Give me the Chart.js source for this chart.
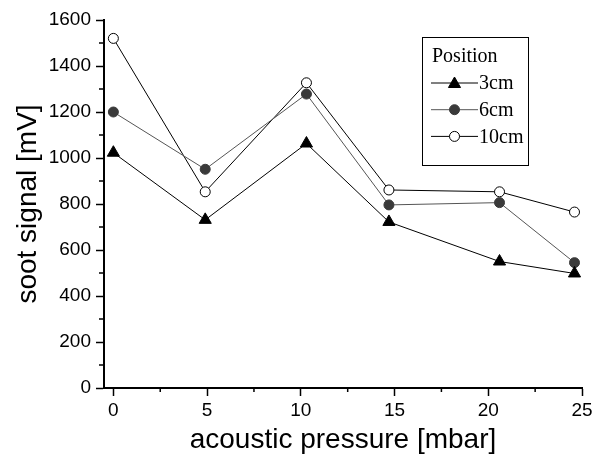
<!DOCTYPE html>
<html>
<head>
<meta charset="utf-8">
<script src="https://cdn.jsdelivr.net/npm/chart.js@4/dist/chart.umd.min.js"></script>
<style>
  html, body { margin: 0; padding: 0; background: #fff; }
  #wrap { width: 604px; height: 457px; }
</style>
</head>
<body>
<div id="wrap"><canvas id="sootChart" width="604" height="457"></canvas></div>
<script>
// Data
const pressure = [0, 4.9, 10.3, 14.7, 20.6, 24.6];
const soot3cm = [1023, 731, 1063, 722, 550, 498];
const soot6cm = [1200, 951, 1278, 796, 806, 545];
const soot10cm = [1520, 853, 1327, 861, 853, 765];
const seriesNames = ["3cm", "6cm", "10cm"];
const xTicks = [0, 5, 10, 15, 20, 25];
const xMinor = [2.5, 7.5, 12.5, 17.5, 22.5];
const yMinor = [100, 300, 500, 700, 900, 1100, 1300, 1500];

const pts = (ys) => pressure.map((x, i) => ({ x: x, y: ys[i] }));

const sansFont = "Arial, 'Liberation Sans', sans-serif";
const serifFont = "'Times New Roman', 'Liberation Serif', serif";

// minor ticks, drawn through the scales
const minorTicks = {
    id: 'minorTicks',
    afterDraw(chart) {
        const ctx = chart.ctx;
        const xs = chart.scales.x, ys = chart.scales.y;
        ctx.save();
        ctx.strokeStyle = '#000';
        ctx.lineWidth = 1.5;
        ctx.beginPath();
        xMinor.forEach(v => {
            const px = xs.getPixelForValue(v);
            ctx.moveTo(px, xs.top);
            ctx.lineTo(px, xs.top + 4);
        });
        yMinor.forEach(v => {
            const py = ys.getPixelForValue(v);
            ctx.moveTo(ys.right, py);
            ctx.lineTo(ys.right - 5, py);
        });
        ctx.stroke();
        ctx.restore();
    }
};

// boxed legend with a "Position" heading
const boxLegend = {
    id: 'boxLegend',
    afterDraw(chart) {
        const ctx = chart.ctx;
        const a = chart.chartArea;
        const left = a.left + 318, top = a.top + 17, w = 106, h = 128;
        ctx.save();
        ctx.strokeStyle = '#000';
        ctx.lineWidth = 1;
        ctx.strokeRect(left + 0.5, top + 0.5, w, h);
        ctx.fillStyle = '#000';
        ctx.font = '20px ' + serifFont;
        ctx.textBaseline = 'alphabetic';
        ctx.fillText('Position', left + 10, top + 25);
        chart.data.datasets.forEach((ds, i) => {
            const cy = top + 46 + i * 26.7;
            const x0 = left + 9, x1 = left + 56;
            ctx.strokeStyle = ds.borderColor;
            ctx.lineWidth = 1;
            ctx.beginPath();
            ctx.moveTo(x0, cy);
            ctx.lineTo(x1, cy);
            ctx.stroke();
            ctx.fillStyle = ds.pointBackgroundColor;
            ctx.strokeStyle = ds.pointBorderColor;
            ctx.lineWidth = ds.pointBorderWidth;
            Chart.helpers.drawPoint(ctx, {
                pointStyle: ds.pointStyle,
                rotation: 0,
                radius: ds.pointRadius,
                borderWidth: ds.pointBorderWidth
            }, (x0 + x1) / 2, cy + (ds.pointStyle === 'triangle' ? 1 : 0));
            ctx.fillStyle = '#000';
            ctx.font = '20px ' + serifFont;
            ctx.textBaseline = 'middle';
            ctx.fillText(ds.label, x1 + 1, cy + 1);
        });
        ctx.restore();
    }
};

const cv = document.getElementById('sootChart').getContext('2d');
const sootChart = new Chart(cv, {
    type: 'line',
    data: {
        datasets: [{
            label: seriesNames[0],
            data: pts(soot3cm),
            borderColor: '#000',
            borderWidth: 1,
            pointStyle: 'triangle',
            pointRadius: 7,
            pointBackgroundColor: '#000',
            pointBorderColor: '#000',
            pointBorderWidth: 1
        }, {
            label: seriesNames[1],
            data: pts(soot6cm),
            borderColor: '#555',
            borderWidth: 1,
            pointStyle: 'circle',
            pointRadius: 5,
            pointBackgroundColor: '#3a3a3a',
            pointBorderColor: '#3a3a3a',
            pointBorderWidth: 1
        }, {
            label: seriesNames[2],
            data: pts(soot10cm),
            borderColor: '#000',
            borderWidth: 1,
            pointStyle: 'circle',
            pointRadius: 5,
            pointBackgroundColor: '#fff',
            pointBorderColor: '#000',
            pointBorderWidth: 1
        }]
    },
    options: {
        responsive: false,
        animation: false,
        devicePixelRatio: 1,
        layout: { padding: { left: 0, top: 20, right: 22, bottom: 0 } },
        scales: {
            x: {
                type: 'linear',
                min: -0.5,
                max: 25,
                afterBuildTicks: (s) => { s.ticks = xTicks.map(v => ({ value: v })); },
                afterFit: (s) => { s.height = 69; },
                grid: {
                    display: true,
                    drawOnChartArea: false,
                    drawTicks: true,
                    tickLength: 8,
                    tickWidth: 1.5,
                    tickColor: '#000'
                },
                border: { display: true, color: '#000', width: 2 },
                ticks: {
                    color: '#000',
                    padding: 3,
                    maxRotation: 0,
                    callback: (v) => String(v),
                    font: { family: sansFont, size: 19 }
                },
                title: {
                    display: true,
                    text: 'acoustic pressure [mbar]',
                    color: '#000',
                    padding: { top: 0, bottom: 0 },
                    font: { family: sansFont, size: 28 }
                }
            },
            y: {
                min: 0,
                max: 1600,
                afterFit: (s) => { s.width = 104; },
                grid: {
                    display: true,
                    drawOnChartArea: false,
                    drawTicks: true,
                    tickLength: 8,
                    tickWidth: 1.5,
                    tickColor: '#000'
                },
                border: { display: true, color: '#000', width: 2 },
                ticks: {
                    stepSize: 200,
                    color: '#000',
                    padding: 5,
                    callback: (v) => String(v),
                    font: { family: sansFont, size: 19 }
                },
                title: {
                    display: true,
                    text: 'soot signal [mV]',
                    color: '#000',
                    padding: { top: 11, bottom: 0 },
                    font: { family: sansFont, size: 28 }
                }
            }
        },
        plugins: {
            legend: { display: false },
            tooltip: { enabled: false }
        }
    },
    plugins: [minorTicks, boxLegend]
});
</script>
</body>
</html>
